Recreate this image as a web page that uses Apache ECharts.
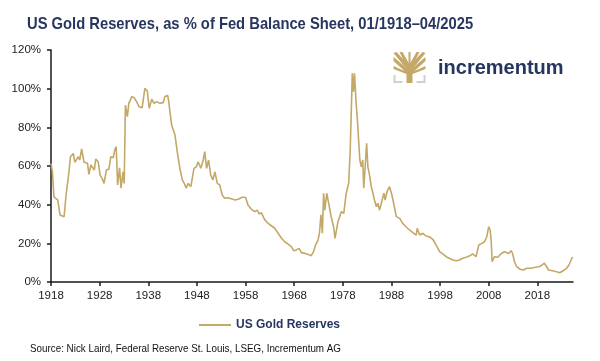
<!DOCTYPE html>
<html>
<head>
<meta charset="utf-8">
<script src="https://cdn.jsdelivr.net/npm/echarts@6/dist/echarts.min.js"></script>
<style>html,body{margin:0;padding:0;background:#fff;}#c{width:600px;height:361px;}</style>
</head>
<body>
<div id="c"></div>
<script>
const years = [1918.0,1918.3,1918.6,1919.0,1919.4,1919.85,1920.7,1921.1,1921.7,1922.0,1922.6,1922.9,1923.6,1923.9,1924.3,1924.8,1925.5,1925.8,1926.2,1926.9,1927.2,1927.7,1928.1,1928.5,1928.9,1929.4,1929.9,1930.3,1930.8,1931.1,1931.4,1931.7,1932.1,1932.4,1932.8,1933.05,1933.3,1933.7,1934.0,1934.6,1935.1,1935.6,1936.1,1936.75,1937.3,1937.8,1938.2,1938.7,1939.2,1939.7,1940.4,1941.1,1941.4,1942.0,1942.2,1942.8,1943.5,1944.0,1944.5,1945.0,1945.4,1945.8,1946.2,1946.75,1947.1,1947.4,1947.9,1948.25,1948.8,1949.3,1949.6,1950.0,1950.4,1950.85,1951.3,1951.7,1952.2,1952.7,1953.2,1953.7,1954.4,1955.2,1955.9,1956.6,1957.3,1958.0,1958.5,1959.2,1959.9,1960.4,1960.8,1961.25,1961.9,1962.6,1963.3,1964.0,1964.7,1965.4,1966.05,1966.7,1967.4,1967.9,1968.45,1969.0,1969.5,1970.2,1970.8,1971.5,1972.0,1972.4,1972.9,1973.2,1973.5,1973.8,1974.05,1974.3,1974.7,1975.1,1975.6,1976.1,1976.4,1977.0,1977.7,1978.2,1978.7,1979.2,1979.5,1979.75,1979.95,1980.2,1980.4,1980.7,1981.0,1981.25,1981.5,1981.8,1982.1,1982.3,1982.6,1982.9,1983.15,1983.5,1983.85,1984.2,1984.5,1984.9,1985.2,1985.55,1985.9,1986.45,1986.7,1987.1,1987.6,1988.1,1988.6,1989.0,1989.7,1990.3,1991.0,1991.7,1992.4,1993.1,1993.3,1993.8,1994.45,1995.1,1995.8,1996.5,1997.2,1997.9,1998.55,1999.25,1999.9,2000.6,2001.3,2002.0,2002.65,2003.35,2004.0,2004.7,2005.4,2005.95,2006.6,2007.1,2007.6,2008.0,2008.3,2008.5,2008.7,2009.2,2009.85,2010.5,2010.9,2011.2,2011.6,2012.1,2012.6,2012.9,2013.3,2013.75,2014.45,2015.1,2015.8,2016.7,2017.6,2018.3,2019.0,2019.45,2019.9,2020.3,2021.1,2021.95,2022.6,2023.3,2024.0,2024.5,2025.1,2025.33];
const goldPct = [61.4,57,44,43.6,42.4,34.7,33.8,45,57,64.8,66.5,61.9,64.8,63.1,68.8,61.9,61.4,55.7,60.5,57.9,63.6,62.2,55.3,53.6,51,57.9,58.4,64.8,64.3,68.3,70,50.2,59.1,48.5,57,51,91.5,85.5,92.4,95.9,95.3,93.3,90.7,90.2,100.2,98.8,89.8,94.6,92.4,93.3,92.4,92.9,95.9,96.4,93.3,81.2,76,66.6,58.8,52.8,51,48.5,51,49.3,48.5,58.8,59.6,62.2,58.8,63.1,67.4,58.8,63.1,55.3,52.8,57,51,50.2,45,43.3,43.6,42.9,42.4,42.9,43.8,43.8,39.8,37.6,36.4,37.2,35.2,35.9,32.4,30.4,29.1,27.8,25.2,22.6,20.8,19.7,18.3,16.2,16.6,17.4,15.2,14.8,14.3,13.6,15.7,19.1,21.7,25.2,34.7,25.2,45.9,37.2,45.9,40.7,33.8,28.6,22.6,31.2,36.4,35.5,45.9,51,66.6,89,108,98.4,108,94.1,83.8,73.4,63.1,59.6,63.1,48.5,59.6,71.7,59.6,55.3,49.3,45.9,42.4,38.9,40.7,37.2,38.1,45.9,42.4,46.7,49.3,45,38.9,33.8,32.9,30.4,28.6,26.9,25.5,24.3,27.8,24.3,25.2,23.8,23.4,22.1,19.1,15.7,14.5,13.1,12.3,11.4,11.0,11.4,12.3,12.8,13.4,14.5,13.1,19.1,20.0,20.8,23.4,28.6,26.9,21.7,10.5,13.1,12.8,14.5,14.8,15.7,15.7,14.8,16.2,14.8,10.5,7.9,6.6,6.2,7.1,7.1,7.6,7.9,8.8,9.7,7.9,6.2,5.8,5.3,4.8,5.8,7.1,8.8,12.3,12.8];
const xTicks = [1918,1928,1938,1948,1958,1968,1978,1988,1998,2008,2018];
const yTicks = [0,20,40,60,80,100,120];
const seriesName = 'US Gold Reserves';
const titleText = 'US Gold Reserves, as % of Fed Balance Sheet, 01/1918\u201304/2025';
const sourceText = 'Source: Nick Laird, Federal Reserve St. Louis, LSEG, Incrementum AG';

const GOLD = '#C3A867';
const NAVY = '#27365F';
const FONT = '"Liberation Sans", Arial, sans-serif';

const chart = echarts.init(document.getElementById('c'), null, {renderer: 'canvas'});
const data = years.map((y, i) => [y, goldPct[i]]);

chart.setOption({
  animation: false,
  backgroundColor: '#fff',
  legend: {
    left: 194, top: 314, itemWidth: 32, itemHeight: 10, itemGap: 4,
    icon: 'path://M0,4L32,4L32,6L0,6Z',
    textStyle: {fontFamily: FONT, fontSize: 12, fontWeight: 'bold', color: NAVY},
    data: [seriesName]
  },
  grid: {left: 51, right: 27, top: 50, bottom: 79, containLabel: false},
  xAxis: {
    type: 'value', min: 1918, max: 2025.33,
    splitLine: {show: false},
    axisLine: {lineStyle: {color: '#1a1a1a', width: 1.5}},
    axisTick: {show: true, length: 4, lineStyle: {color: '#1a1a1a', width: 1.5}, customValues: xTicks},
    axisLabel: {customValues: xTicks, margin: 8, color: '#222', fontFamily: FONT, fontSize: 11.5, formatter: v => String(Math.round(v))}
  },
  yAxis: {
    type: 'value', min: 0, max: 120, interval: 20,
    splitLine: {show: false},
    axisLine: {show: true, lineStyle: {color: '#1a1a1a', width: 1.5}},
    axisTick: {show: true, length: 4, lineStyle: {color: '#1a1a1a', width: 1.5}},
    axisLabel: {margin: 10, color: '#222', fontFamily: FONT, fontSize: 11.5, formatter: '{value}%'}
  },
  series: [{
    name: seriesName, type: 'line', data: data, showSymbol: false, symbol: 'none',
    lineStyle: {color: GOLD, width: 1.6}, itemStyle: {color: GOLD}
  }],
  graphic: [
    {type: 'text', x: 27, y: 16, scaleX: 0.868, style: {text: titleText, fontFamily: FONT, fontSize: 17, fontWeight: 'bold', fill: NAVY, textAlign: 'left', textVerticalAlign: 'top'}},
    {type: 'text', x: 30, y: 343, scaleX: 0.894, style: {text: sourceText, fontFamily: FONT, fontSize: 11, fill: '#111', textAlign: 'left', textVerticalAlign: 'top'}},
    {type: 'group', left: 392, top: 52, children: [
      {type: 'rect', shape: {x: 13, y: 14, width: 6, height: 17}, style: {fill: GOLD}},
      {type: 'polygon', shape: {points: [[13,16],[19,16],[32,5],[32,9],[21,19],[32,14],[32,17],[19,22],[13,22],[0,17],[0,14],[11,19],[0,9],[0,5]]}, style: {fill: GOLD}},
      {type: 'polygon', shape: {points: [[14,16],[18,16],[26,0],[23,0]]}, style: {fill: GOLD}},
      {type: 'polygon', shape: {points: [[14,16],[18,16],[9,0],[6,0]]}, style: {fill: GOLD}},
      {type: 'polygon', shape: {points: [[15,16],[17,16],[17,0],[15,0]]}, style: {fill: GOLD}},
      {type: 'polygon', shape: {points: [[13,17],[19,17],[32,1],[29,0]]}, style: {fill: GOLD}},
      {type: 'polygon', shape: {points: [[13,17],[19,17],[3,0],[0,1]]}, style: {fill: GOLD}},
      {type: 'polyline', shape: {points: [[1,23],[1,30],[9,30]]}, style: {stroke: '#d0d0d0', lineWidth: 2, fill: null}},
      {type: 'polyline', shape: {points: [[31,23],[31,30],[23,30]]}, style: {stroke: '#d0d0d0', lineWidth: 2, fill: null}}
    ]},
    {type: 'text', left: 438, top: 58, style: {text: 'incrementum', fontFamily: FONT, fontSize: 20, fontWeight: 'bold', fill: NAVY}}
  ]
});
</script>
</body>
</html>
